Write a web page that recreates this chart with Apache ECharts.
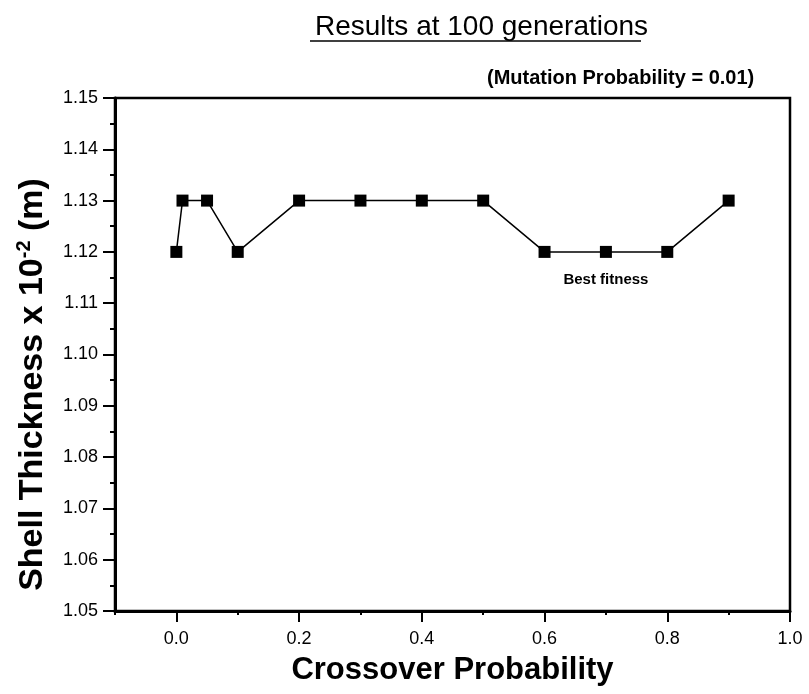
<!DOCTYPE html>
<html>
<head>
<meta charset="utf-8">
<script src="https://cdn.jsdelivr.net/npm/echarts@6/dist/echarts.min.js"></script>
<style>
  html, body { margin: 0; padding: 0; background: #fff; }
  #chart { width: 809px; height: 694px; }
</style>
</head>
<body>
<div id="chart"></div>
<script>
  // crossover probability and best shell thickness (x 10^-2 m)
  var crossover = [0.0, 0.01, 0.05, 0.1, 0.2, 0.3, 0.4, 0.5, 0.6, 0.7, 0.8, 0.9];
  var thickness = [1.12, 1.13, 1.13, 1.12, 1.13, 1.13, 1.13, 1.13, 1.12, 1.12, 1.12, 1.13];
  var bestIndex = 9; // point that carries the "Best fitness" note

  var font = 'Liberation Sans, Arial, sans-serif';
  var points = crossover.map(function (x, i) {
    var p = { value: [x, thickness[i]] };
    if (i === bestIndex) {
      p.label = {
        show: true, position: 'bottom', distance: 14,
        formatter: 'Best fitness',
        fontFamily: font, fontSize: 15, fontWeight: 'bold', color: '#000'
      };
    }
    return p;
  });

  var chart = echarts.init(document.getElementById('chart'));
  chart.setOption({
    animation: false,
    backgroundColor: '#fff',
    title: [{
      text: 'Results at 100 generations',
      left: 310, top: 8,
      textStyle: { fontFamily: font, fontSize: 28, fontWeight: 'normal', color: '#000' }
    }, {
      text: '(Mutation Probability = 0.01)',
      left: 482, top: 63,
      textStyle: { fontFamily: font, fontSize: 20, fontWeight: 'bold', color: '#000' }
    }],
    graphic: [{
      type: 'line',
      shape: { x1: 310, y1: 41, x2: 641, y2: 41 },
      style: { stroke: '#000', lineWidth: 1.5 }
    }],
    grid: {
      left: 115, right: 19, top: 98, bottom: 83,
      show: true, borderColor: '#000', borderWidth: 2.5, backgroundColor: 'transparent'
    },
    xAxis: [{
      type: 'value', min: -0.1, max: 1.0, interval: 0.1,
      axisLine: { show: true, onZero: false, lineStyle: { color: '#000', width: 3 } },
      axisTick: { show: true, inside: false, length: 4, lineStyle: { color: '#000', width: 2 } },
      axisLabel: { show: false },
      splitLine: { show: false },
      name: 'Crossover Probability', nameLocation: 'middle', nameGap: 44,
      nameTextStyle: { fontFamily: font, fontSize: 31, fontWeight: 'bold', color: '#000' }
    }, {
      type: 'value', min: -0.1, max: 1.0, splitNumber: 5, position: 'bottom',
      axisLine: { show: false, onZero: false },
      axisTick: { show: true, inside: false, length: 11, lineStyle: { color: '#000', width: 2 } },
      axisLabel: {
        showMinLabel: false, margin: 19,
        fontFamily: font, fontSize: 18, color: '#000',
        formatter: function (v) { return v.toFixed(1); }
      },
      splitLine: { show: false }
    }],
    yAxis: {
      type: 'value', min: 1.05, max: 1.15, interval: 0.01,
      axisLine: { show: true, onZero: false, lineStyle: { color: '#000', width: 3 } },
      axisTick: { show: true, inside: false, length: 12, lineStyle: { color: '#000', width: 2 } },
      minorTick: { show: true, splitNumber: 2, length: 5, lineStyle: { color: '#000', width: 2 } },
      axisLabel: {
        margin: 17, fontFamily: font, fontSize: 18, color: '#000',
        formatter: function (v) { return v.toFixed(2); }
      },
      splitLine: { show: false },
      name: 'Shell Thickness x 10{sup|-2} (m)', nameLocation: 'middle', nameGap: 63,
      nameTextStyle: {
        fontFamily: font, fontSize: 34, fontWeight: 'bold', color: '#000',
        padding: [0, 60, 0, 0],
        rich: {
          sup: { fontFamily: font, fontSize: 20, fontWeight: 'bold', color: '#000', verticalAlign: 'top', lineHeight: 38 }
        }
      }
    },
    series: [{
      type: 'line',
      xAxisIndex: 0,
      data: points,
      symbol: 'rect', symbolSize: 12,
      lineStyle: { color: '#000', width: 1.5 },
      itemStyle: { color: '#000' }
    }]
  });
</script>
</body>
</html>
